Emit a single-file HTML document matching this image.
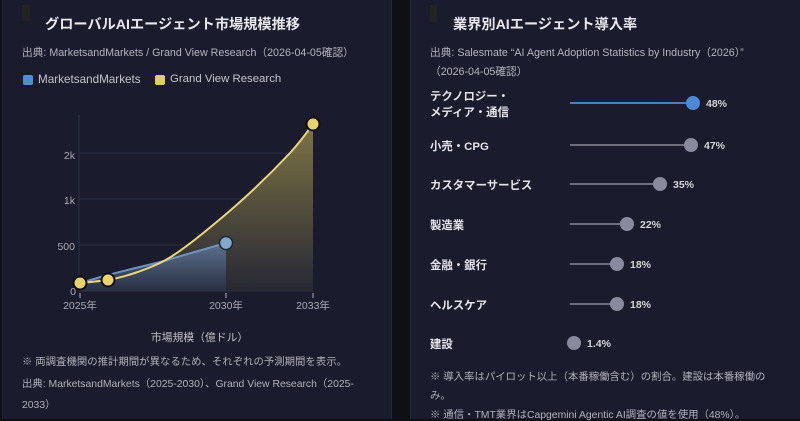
<!DOCTYPE html>
<html><head><meta charset="utf-8">
<style>
html,body{margin:0;padding:0;}
body{width:800px;height:419px;background:#0f0f15;position:relative;overflow:hidden;font-family:"Liberation Sans","Noto Sans CJK JP",sans-serif;}
.panel{position:absolute;top:0;height:419px;background:#1a1b2d;}
.t{position:absolute;white-space:nowrap;}
.title{font-size:14.2px;font-weight:bold;color:#e8e8ec;}
.src{font-size:10.7px;color:#b4b4bf;}
.note{font-size:10.4px;color:#b0b0ba;}
.lab{font-size:11.4px;font-weight:bold;color:#e4e4ea;}
.pct{font-size:11px;font-weight:bold;color:#d4d4dc;}
</style></head><body>
<div class="panel" style="left:2px;width:388px;border-left:1px solid #23243a;border-right:1px solid #26273d;"></div>
<div class="panel" style="left:410px;width:390px;border-left:1px solid #26273d;"></div>

<!-- left panel -->
<div style="position:absolute;left:22px;top:5px;width:8px;height:16px;background:#23241f;"></div>
<div class="t title" style="left:45px;top:14px;">グローバルAIエージェント市場規模推移</div>
<div class="t src" style="left:22px;top:45px;">出典: MarketsandMarkets / Grand View Research（2026-04-05確認）</div>
<div style="position:absolute;left:23px;top:75px;width:10px;height:10px;background:#4f8ed0;border-radius:2px;"></div>
<div class="t" style="left:38px;top:73px;font-size:11.7px;color:#c4c4ce;">MarketsandMarkets</div>
<div style="position:absolute;left:155px;top:75px;width:10px;height:10px;background:#e3cf5e;border-radius:2px;"></div>
<div class="t" style="left:170px;top:73px;font-size:11.4px;color:#c4c4ce;">Grand View Research</div>

<svg style="position:absolute;left:0;top:0" width="390" height="419">
<defs>
<linearGradient id="gy" x1="0" y1="0" x2="0" y2="1">
<stop offset="0" stop-color="#8f8448"/><stop offset="1" stop-color="#2a2a35"/>
</linearGradient>
<linearGradient id="gb" x1="0" y1="0" x2="0" y2="1">
<stop offset="0" stop-color="#5f7796"/><stop offset="1" stop-color="#2a3046"/>
</linearGradient>
</defs>
<line x1="79" y1="115" x2="79" y2="291" stroke="#2e3048" stroke-width="1"/>
<line x1="79" y1="153" x2="313" y2="153" stroke="#2a2c44" stroke-width="1"/>
<line x1="79" y1="199" x2="313" y2="199" stroke="#2a2c44" stroke-width="1"/>
<line x1="79" y1="245" x2="313" y2="245" stroke="#2a2c44" stroke-width="1"/>
<line x1="79" y1="291" x2="313" y2="291" stroke="#2e3048" stroke-width="1"/>
<path d="M80,283 C92,282 100,281 108,280 C125,277 145,270 160,263 C175,256 195,240 213,225 C235,207 260,185 290,153 C300,142 308,131 313,124 L313,291 L80,291 Z" fill="url(#gy)" opacity="0.85"/>
<path d="M80,283 C95,279 100,277 108,275 C130,269 145,266 160,262 C185,255 205,249 226,243 L226,291 L80,291 Z" fill="url(#gb)" opacity="0.9"/>
<path d="M80,283 C95,279 100,277 108,275 C130,269 145,266 160,262 C185,255 205,249 226,243" fill="none" stroke="#6f93c0" stroke-width="2"/>
<path d="M80,283 C92,282 100,281 108,280 C125,277 145,270 160,263 C175,256 195,240 213,225 C235,207 260,185 290,153 C300,142 308,131 313,124" fill="none" stroke="#e8d77a" stroke-width="2"/>
<circle cx="226" cy="243" r="6.5" fill="#82a9cc" stroke="#1c2436" stroke-width="1.5"/>
<circle cx="80" cy="283" r="6.5" fill="#e8d46a" stroke="#0e0e10" stroke-width="2"/>
<circle cx="108" cy="280" r="6.5" fill="#e8d46a" stroke="#0e0e10" stroke-width="2"/>
<circle cx="313" cy="124" r="6.5" fill="#e8d46a" stroke="#0e0e10" stroke-width="2"/>
<line x1="80" y1="293" x2="80" y2="298" stroke="#b0b0bc" stroke-width="1"/>
<line x1="226" y1="293" x2="226" y2="298" stroke="#b0b0bc" stroke-width="1"/>
<line x1="313" y1="293" x2="313" y2="298" stroke="#b0b0bc" stroke-width="1"/>
<g font-family="Liberation Sans, Noto Sans CJK JP, sans-serif" font-size="10.5" fill="#a8a8b6">
<text x="75" y="159" text-anchor="end">2k</text>
<text x="75" y="204" text-anchor="end">1k</text>
<text x="75" y="250" text-anchor="end">500</text>
<text x="76" y="295" text-anchor="end">0</text>
<text x="80" y="309" text-anchor="middle">2025年</text>
<text x="226" y="309" text-anchor="middle">2030年</text>
<text x="313" y="309" text-anchor="middle">2033年</text>
</g>
</svg>
<div class="t note" style="left:151px;top:329px;font-size:10.8px;color:#c0c0c8;">市場規模（億ドル）</div>
<div class="t note" style="left:22px;top:353px;">※ 両調査機関の推計期間が異なるため、それぞれの予測期間を表示。</div>
<div class="t note" style="left:22px;top:375px;">出典: MarketsandMarkets（2025-2030）、Grand View Research（2025-</div>
<div class="t note" style="left:22px;top:396px;">2033）</div>

<!-- right panel -->
<div style="position:absolute;left:430px;top:5px;width:7px;height:17px;background:#23241f;"></div>
<div class="t title" style="left:453px;top:14px;">業界別AIエージェント導入率</div>
<div class="t src" style="left:430px;top:45px;">出典: Salesmate “AI Agent Adoption Statistics by Industry（2026）”</div>
<div class="t src" style="left:430px;top:64px;">（2026-04-05確認）</div>

<div class="t lab" style="left:430px;top:88px;">テクノロジー・</div>
<div class="t lab" style="left:430px;top:104px;">メディア・通信</div>
<div class="t lab" style="left:430px;top:138px;">小売・CPG</div>
<div class="t lab" style="left:430px;top:177px;">カスタマーサービス</div>
<div class="t lab" style="left:430px;top:217px;">製造業</div>
<div class="t lab" style="left:430px;top:257px;">金融・銀行</div>
<div class="t lab" style="left:430px;top:297px;">ヘルスケア</div>
<div class="t lab" style="left:430px;top:336px;">建設</div>

<svg style="position:absolute;left:0;top:0" width="800" height="419">
<line x1="570" y1="103" x2="693" y2="103" stroke="#4a7cc0" stroke-width="2"/>
<circle cx="693" cy="103" r="7" fill="#4a8ad8"/>
<line x1="570" y1="145" x2="690" y2="145" stroke="#6e6e7e" stroke-width="2"/>
<circle cx="691" cy="145" r="7" fill="#8a8a9e"/>
<line x1="570" y1="184" x2="660" y2="184" stroke="#6e6e7e" stroke-width="2"/>
<circle cx="660" cy="184" r="7" fill="#8a8a9e"/>
<line x1="570" y1="224" x2="627" y2="224" stroke="#6e6e7e" stroke-width="2"/>
<circle cx="627" cy="224" r="7" fill="#8a8a9e"/>
<line x1="570" y1="264" x2="617" y2="264" stroke="#6e6e7e" stroke-width="2"/>
<circle cx="617" cy="264" r="7" fill="#8a8a9e"/>
<line x1="570" y1="304" x2="617" y2="304" stroke="#6e6e7e" stroke-width="2"/>
<circle cx="617" cy="304" r="7" fill="#8a8a9e"/>
<circle cx="574" cy="343" r="7" fill="#8a8a9e"/>
<g font-family="Liberation Sans, Noto Sans CJK JP, sans-serif" font-size="10.5" font-weight="bold" fill="#d4d4dc">
<text x="706" y="107">48%</text>
<text x="704" y="149">47%</text>
<text x="673" y="188">35%</text>
<text x="640" y="228">22%</text>
<text x="630" y="268">18%</text>
<text x="630" y="308">18%</text>
<text x="587" y="347">1.4%</text>
</g>
</svg>
<div class="t note" style="left:430px;top:368px;">※ 導入率はパイロット以上（本番稼働含む）の割合。建設は本番稼働の</div>
<div class="t note" style="left:430px;top:387px;">み。</div>
<div class="t note" style="left:430px;top:406px;">※ 通信・TMT業界はCapgemini Agentic AI調査の値を使用（48%）。</div>
</body></html>
